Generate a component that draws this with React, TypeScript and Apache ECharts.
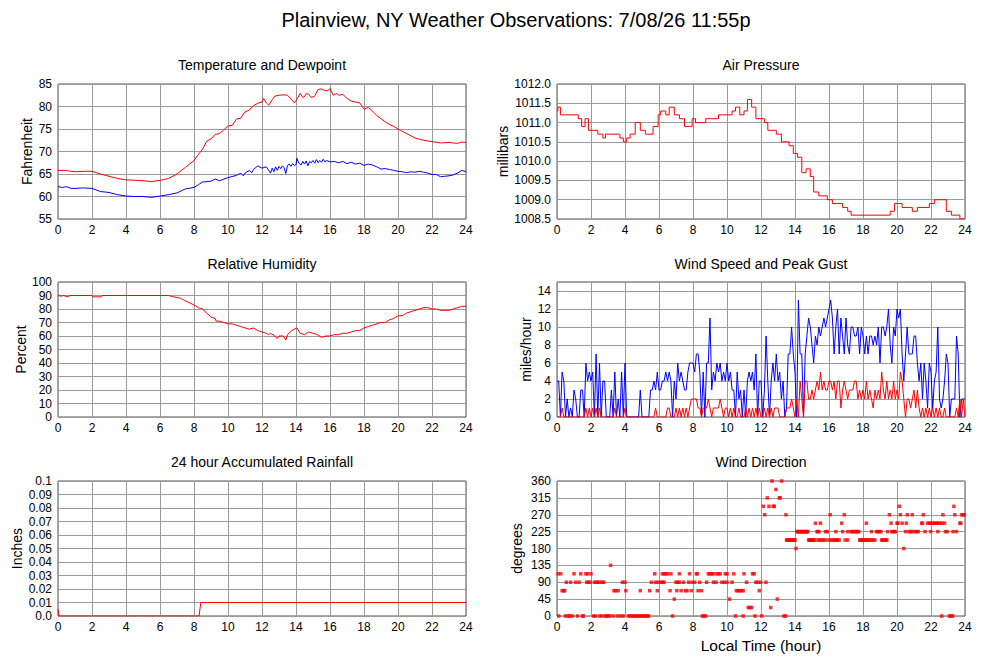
import React, { useEffect, useRef } from "react";
import * as echarts from "echarts";

const FONT = '"Liberation Sans", Arial, Helvetica, sans-serif';

const mainTitle = "Plainview, NY Weather Observations: 7/08/26 11:55p";
const panelTitles = [
  "Temperature and Dewpoint",
  "Air Pressure",
  "Relative Humidity",
  "Wind Speed and Peak Gust",
  "24 hour Accumulated Rainfall",
  "Wind Direction",
];
const yNames = ["Fahrenheit", "millibars", "Percent", "miles/hour", "Inches", "degrees"];
const xName = "Local Time (hour)";

// [hour, °F]
const temperature: number[][] = [
  [0, 65.8], [0.5, 65.8], [0.75, 65.6], [1, 65.5], [1.5, 65.6], [2, 65.6], [2.5, 65.0], [3, 64.5],
  [3.5, 64.0], [4, 63.7], [4.5, 63.6], [5, 63.5], [5.5, 63.3], [6, 63.6], [6.5, 64.0], [7, 65.0],
  [7.5, 66.5], [8, 68.0], [8.25, 69.3], [8.5, 70.5], [8.75, 72.3], [9, 72.8], [9.25, 73.8], [9.5, 74.0],
  [9.75, 74.8], [10, 75.7], [10.25, 75.8], [10.5, 77.2], [10.75, 77.4], [11, 78.8], [11.25, 79.2],
  [11.5, 80.2], [11.75, 80.7], [12, 81.0], [12.1, 81.8], [12.25, 80.8], [12.4, 80.3], [12.6, 81.5],
  [12.75, 82.3], [13, 82.5], [13.25, 82.6], [13.5, 82.5], [13.75, 81.5], [13.9, 80.8], [14, 81.3],
  [14.25, 82.9], [14.4, 82.0], [14.5, 82.2], [14.6, 82.9], [14.75, 82.7], [14.9, 82.0], [15.1, 82.3],
  [15.3, 83.8], [15.5, 83.9], [15.75, 83.5], [15.9, 83.6], [16.0, 84.0], [16.2, 82.5], [16.4, 82.9],
  [16.5, 82.5], [16.75, 82.7], [17, 81.8], [17.25, 81.2], [17.5, 81.0], [17.75, 80.8], [17.9, 80.0],
  [18, 79.4], [18.25, 79.8], [18.5, 79.0], [18.75, 78.0], [19, 77.3], [19.25, 76.6], [19.5, 76.0],
  [19.75, 75.6], [20, 75.0], [20.5, 74.0], [21, 73.0], [21.5, 72.5], [22, 72.2], [22.5, 71.9],
  [23, 72.0], [23.5, 71.8], [23.75, 72.1], [24, 72.0],
];

// [hour, °F]
const dewpoint: number[][] = [
  [0, 62.2], [0.25, 62.0], [0.5, 62.2], [0.75, 61.8], [1, 61.8], [1.5, 61.9], [2, 61.8], [2.5, 61.1],
  [3, 60.9], [3.5, 60.4], [4, 60.1], [4.5, 60.0], [5, 60.0], [5.5, 59.8], [6, 60.1], [6.5, 60.4],
  [7, 60.8], [7.5, 61.7], [8, 62.0], [8.25, 62.6], [8.5, 63.2], [9, 63.4], [9.25, 63.9], [9.5, 63.5],
  [10, 64.2], [10.5, 64.7], [10.75, 65.2], [10.9, 64.6], [11, 65.2], [11.25, 65.8], [11.4, 65.3],
  [11.5, 66.0], [11.75, 66.8], [12, 66.3], [12.25, 66.6], [12.5, 65.2], [12.6, 66.3], [12.7, 65.5],
  [12.8, 66.6], [12.9, 65.8], [13.0, 66.7], [13.1, 66.2], [13.2, 66.8], [13.3, 66.4], [13.4, 65.1],
  [13.5, 66.9], [13.6, 67.2], [13.7, 66.7], [13.8, 67.3], [13.9, 66.9], [14.0, 67.1], [14.05, 68.5],
  [14.15, 67.5], [14.3, 67.0], [14.4, 67.8], [14.5, 67.2], [14.6, 67.9], [14.7, 66.8], [14.8, 67.8],
  [14.9, 67.5], [15.0, 68.0], [15.1, 67.4], [15.2, 68.2], [15.3, 67.5], [15.4, 68.0], [15.5, 67.6],
  [15.6, 68.3], [15.7, 67.7], [15.8, 68.0], [16.0, 67.7], [16.25, 67.8], [16.5, 67.5], [16.75, 67.8],
  [17, 67.3], [17.25, 67.6], [17.5, 67.2], [17.75, 67.4], [18, 66.9], [18.25, 67.2], [18.5, 67.0],
  [18.75, 66.6], [19, 66.1], [19.25, 66.2], [19.5, 66.0], [19.75, 65.8], [20, 65.6], [20.25, 65.5],
  [20.5, 65.3], [20.75, 65.5], [21, 65.4], [21.25, 65.6], [21.5, 65.4], [21.75, 65.2], [22, 64.9],
  [22.25, 64.9], [22.5, 64.4], [22.75, 64.5], [23, 64.6], [23.25, 64.8], [23.5, 65.2], [23.75, 65.8],
  [24, 65.5],
];

// [hour at which the reading changes, mb]
const pressure: number[][] = [
  [0, 1011.3], [0.05, 1011.4], [0.2, 1011.2], [1.25, 1011.1], [1.45, 1010.9], [1.65, 1011.1],
  [1.85, 1010.8], [2.4, 1010.7], [2.7, 1010.6], [2.85, 1010.7], [3.7, 1010.6], [3.9, 1010.5],
  [4.1, 1010.6], [4.3, 1010.7], [4.6, 1011.0], [4.9, 1010.8], [5.2, 1010.7], [5.65, 1010.9],
  [5.95, 1011.2], [6.1, 1011.3], [6.4, 1011.2], [6.6, 1011.4], [6.9, 1011.2], [7.2, 1011.1],
  [7.5, 1010.9], [7.95, 1011.1], [8.15, 1011.0], [8.75, 1011.1], [9.5, 1011.2], [10.3, 1011.3],
  [10.5, 1011.4], [10.75, 1011.2], [11.0, 1011.3], [11.2, 1011.6], [11.45, 1011.4], [11.7, 1011.1],
  [12.2, 1011.0], [12.4, 1010.8], [12.9, 1010.7], [13.2, 1010.5], [13.65, 1010.4], [13.9, 1010.2],
  [14.15, 1010.1], [14.4, 1009.7], [14.65, 1009.8], [14.9, 1009.6], [15.1, 1009.2], [15.4, 1009.1],
  [15.9, 1009.0], [16.2, 1008.9], [16.8, 1008.8], [17.1, 1008.7], [17.3, 1008.6], [19.6, 1008.7],
  [19.85, 1008.9], [20.3, 1008.8], [20.9, 1008.7], [21.2, 1008.8], [21.9, 1008.9], [22.2, 1009.0],
  [22.9, 1008.7], [23.2, 1008.6], [23.7, 1008.5], [24, 1008.5],
];

// [hour, %]
const humidity: number[][] = [
  [0, 90], [0.2, 89.5], [0.3, 90], [0.6, 89], [0.7, 90], [2, 90], [2.05, 89], [2.55, 89], [2.6, 90],
  [6.5, 90], [6.8, 89], [7.2, 88], [7.5, 86], [8, 83], [8.25, 81], [8.5, 80], [8.75, 77], [9, 74],
  [9.25, 73], [9.3, 71], [9.5, 71], [9.75, 70], [10, 69], [10.25, 69], [10.5, 68], [10.75, 67],
  [11, 66], [11.25, 65], [11.5, 66], [11.75, 64], [12, 63], [12.25, 62], [12.4, 61], [12.5, 62],
  [12.75, 60], [12.9, 58], [13, 60], [13.25, 60], [13.4, 57], [13.5, 61], [13.75, 64], [13.9, 65],
  [14.05, 66], [14.25, 62], [14.5, 61], [14.75, 63], [15, 62], [15.25, 61], [15.5, 59], [15.75, 60],
  [16, 60], [16.25, 61], [16.5, 61], [16.75, 62], [17, 62], [17.25, 63], [17.5, 64], [17.75, 64],
  [18, 66], [18.25, 67], [18.5, 68], [18.75, 69], [19, 70], [19.25, 70], [19.5, 72], [19.75, 73],
  [20, 75], [20.25, 75], [20.5, 77], [20.75, 78], [21, 79], [21.25, 80], [21.5, 81], [21.75, 81],
  [22, 80], [22.25, 80], [22.5, 79], [22.75, 79], [23, 79], [23.25, 80], [23.5, 81], [23.75, 82],
  [24, 82],
];

// readings every 0.1 hour from 0 to 24 (mph)
const peakGust: number[] = [
  4, 4, 0, 5, 4, 0, 2, 0, 1, 0,
  3, 2, 0, 0, 3, 3, 0, 6, 4, 5,
  4, 5, 0, 7, 0, 6, 0, 4, 4, 0,
  0, 0, 3, 0, 5, 0, 2, 0, 5, 0,
  6, 0, 0, 0, 0, 0, 0, 0, 0, 3,
  0, 0, 0, 0, 0, 3, 3, 4, 3, 5,
  3, 3, 4, 4, 5, 4, 5, 4, 0, 4,
  2, 6, 4, 5, 4, 3, 3, 5, 6, 6,
  6, 5, 7, 7, 5, 0, 5, 0, 6, 6,
  11, 3, 5, 4, 6, 5, 6, 4, 5, 4,
  6, 4, 5, 3, 3, 0, 5, 2, 3, 0,
  3, 0, 4, 5, 4, 5, 3, 7, 0, 4,
  4, 0, 3, 9, 4, 0, 4, 6, 4, 7,
  4, 5, 2, 4, 0, 1, 7, 7, 10, 7,
  5, 0, 13, 7, 7, 0, 7, 9, 11, 10,
  8, 6, 9, 8, 10, 9, 10, 11, 10, 11,
  12, 13, 11, 7, 10, 12, 7, 11, 9, 7,
  11, 8, 7, 10, 10, 9, 9, 10, 7, 10,
  9, 7, 9, 7, 9, 9, 8, 9, 8, 10,
  6, 10, 10, 9, 10, 12, 8, 6, 10, 9,
  12, 11, 12, 7, 4, 7, 10, 7, 7, 7,
  9, 9, 6, 4, 6, 2, 6, 4, 1, 6,
  5, 1, 4, 5, 10, 2, 1, 2, 4, 7,
  6, 0, 2, 2, 2, 9, 7, 0, 2, 2,
  2,
];

const windSpeed: number[] = [
  0, 0, 0, 1, 0, 0, 0, 0, 0, 0,
  0, 0, 0, 0, 0, 0, 0, 1, 0, 1,
  0, 1, 0, 1, 0, 1, 0, 0, 0, 0,
  0, 0, 0, 0, 1, 0, 0, 0, 0, 0,
  1, 0, 0, 0, 0, 0, 0, 0, 0, 0,
  0, 0, 0, 0, 0, 0, 0, 0, 1, 0,
  0, 0, 0, 0, 0, 1, 1, 0, 0, 0,
  1, 0, 1, 0, 1, 0, 1, 0, 1, 2,
  2, 2, 2, 1, 1, 0, 1, 1, 1, 2,
  1, 0, 1, 1, 1, 1, 2, 1, 0, 1,
  1, 0, 1, 0, 1, 0, 0, 1, 0, 0,
  0, 1, 0, 1, 0, 1, 0, 1, 0, 1,
  0, 0, 1, 0, 1, 0, 1, 0, 1, 1,
  1, 0, 0, 0, 0, 1, 1, 1, 2, 1,
  0, 2, 0, 4, 2, 0, 4, 4, 2, 2,
  3, 2, 3, 4, 3, 5, 3, 4, 3, 3,
  4, 4, 3, 4, 2, 4, 4, 1, 3, 4,
  3, 2, 3, 3, 3, 4, 4, 2, 3, 2,
  3, 2, 4, 2, 3, 2, 1, 3, 2, 3,
  2, 5, 3, 2, 4, 2, 3, 2, 4, 2,
  3, 2, 5, 4, 2, 0, 2, 2, 1, 2,
  3, 1, 3, 1, 0, 1, 0, 1, 0, 1,
  0, 1, 0, 1, 0, 1, 0, 0, 1, 0,
  0, 0, 0, 0, 0, 1, 0, 2, 0, 2,
  0,
];
const windStepHours = 0.1;

// [hour, inches]
const rainfall: number[][] = [
  [0, 0.005], [0.05, 0], [8.3, 0], [8.4, 0.01], [24, 0.01],
];

// hours at which each compass direction (degrees) was reported
const dirHours: Record<string, number[]> = {
  "0": [0.1, 0.5, 0.65, 0.75, 0.9, 1.2, 1.5, 1.55, 2.15, 2.25, 2.5, 2.65, 2.85, 2.9, 3.0, 3.1, 3.3, 3.55,
    3.75, 3.9, 4.2, 4.3, 4.4, 4.5, 4.6, 4.7, 4.8, 4.9, 5.0, 5.1, 5.2, 5.3, 5.4, 6.8, 8.55, 8.65, 8.75,
    10.5, 10.95, 11.65, 12.04, 13.35, 13.45, 22.63, 23.08, 23.18, 23.28],
  "22.5": [11.25, 11.35, 11.45, 12.57],
  "45": [6.9, 10.15, 12.96],
  "67.5": [0.3, 0.4, 0.45, 3.35, 3.45, 3.6, 4.05, 4.9, 5.45, 5.9, 6.65, 7.05, 7.3, 7.55, 7.65, 7.9, 8.3,
    8.5, 10.55, 10.65, 10.75, 10.85, 10.95, 11.9],
  "90": [0.55, 0.8, 1.1, 1.3, 1.75, 1.85, 1.95, 2.2, 2.3, 2.4, 2.5, 2.65, 2.75, 3.85, 4.0, 5.55, 5.8, 5.95,
    6.1, 6.2, 6.3, 7.0, 7.1, 7.2, 7.45, 7.75, 7.95, 8.1, 8.4, 8.8, 9.2, 9.35, 9.7, 9.85, 10.0, 10.3,
    11.15, 11.7, 11.8, 11.98, 12.29],
  "112.5": [0.06, 0.22, 1.0, 1.4, 1.7, 1.8, 2.0, 5.75, 6.2, 6.3, 6.4, 6.5, 6.7, 7.2, 7.8, 8.2, 8.25, 8.9,
    9.0, 9.1, 9.2, 9.4, 9.5, 9.6, 9.9, 10.0, 10.4, 11.0, 11.5, 11.6],
  "135": [3.15],
  "180": [14.06, 20.4],
  "202.5": [13.5, 13.55, 13.6, 13.65, 13.7, 13.75, 13.8, 13.85, 13.9, 13.95, 14.0, 14.8, 14.85, 14.9, 14.95,
    15.0, 15.05, 15.1, 15.2, 15.4, 15.45, 15.6, 15.65, 15.8, 16.0, 16.1, 16.2, 16.3, 16.35, 16.45, 16.5,
    16.6, 16.95, 17.1, 17.8, 17.85, 17.9, 17.95, 18.0, 18.1, 18.15, 18.25, 18.3, 18.4, 18.5, 18.6, 18.7,
    19.1, 19.15, 19.2, 19.3, 19.35, 19.4],
  "225": [14.1, 14.15, 14.2, 14.25, 14.3, 14.35, 14.4, 14.45, 14.5, 14.55, 14.6, 14.65, 14.7, 14.75, 15.3,
    15.35, 15.4, 15.8, 15.9, 16.4, 16.8, 17.1, 17.3, 17.35, 17.45, 17.55, 17.6, 17.7, 17.75, 18.5, 18.8,
    18.85, 18.95, 19.05, 19.45, 19.7, 19.75, 19.85, 19.9, 20.5, 20.7, 20.8, 20.9, 21.05, 21.15, 21.25,
    21.65, 21.98, 22.4, 22.85, 22.95, 23.3, 23.5],
  "247.5": [15.2, 15.5, 16.75, 18.2, 19.65, 20.0, 20.05, 20.3, 20.55, 21.45, 21.5, 21.8, 21.9, 22.0, 22.1,
    22.2, 22.3, 22.35, 22.45, 22.55, 22.65, 22.8, 23.7, 23.75],
  "270": [12.22, 13.47, 16.07, 16.9, 19.55, 20.2, 20.6, 20.9, 21.55, 22.7, 23.4, 23.8, 23.9, 23.95],
  "292.5": [12.14, 12.47, 12.72, 12.78, 20.14, 23.35],
  "315": [12.37, 13.08, 13.13],
  "337.5": [12.88],
  "360": [12.65, 13.22],
};

const grids = [
  { left: 58, top: 84, width: 408, height: 135 },
  { left: 557, top: 84, width: 408, height: 135 },
  { left: 58, top: 282, width: 408, height: 135 },
  { left: 557, top: 282, width: 408, height: 135 },
  { left: 58, top: 481, width: 408, height: 135 },
  { left: 557, top: 481, width: 408, height: 135 },
];

const yRanges = [
  { min: 55, max: 85, interval: 5, nameGap: 24 },
  { min: 1008.5, max: 1012, interval: 0.5, nameGap: 45 },
  { min: 0, max: 100, interval: 10, nameGap: 30 },
  { min: 0, max: 15, interval: 2, nameGap: 24 },
  { min: 0, max: 0.1, interval: 0.01, nameGap: 34 },
  { min: 0, max: 360, interval: 45, nameGap: 33 },
];

const titleY = [65, 65, 264, 264, 462, 462];

export default function App() {
  const ref = useRef<HTMLDivElement>(null);

  useEffect(() => {
    document.body.style.margin = "0";
    if (!ref.current) return;
    const chart = echarts.init(ref.current, undefined, { renderer: "svg" });

    const labelStyle = { color: "#000", fontSize: 12, fontFamily: FONT };

    const xAxis = grids.map((_, i) => ({
      type: "value",
      gridIndex: i,
      min: 0,
      max: 24,
      interval: 2,
      axisLine: { show: false },
      axisTick: { show: false },
      axisLabel: { ...labelStyle, margin: 5 },
      splitLine: { show: true, lineStyle: { color: "#9a9a9a", width: 1 } },
    }));

    const yAxis = grids.map((_, i) => {
      const r = yRanges[i];
      let formatter: any = undefined;
      if (i === 1) formatter = (v: number) => v.toFixed(1);
      if (i === 4) formatter = (v: number) => (v === 0 ? "0.0" : String(Number(v.toFixed(2))));
      return {
        type: "value",
        gridIndex: i,
        min: r.min,
        max: r.max,
        interval: r.interval,
        name: yNames[i],
        nameLocation: "middle",
        nameGap: r.nameGap,
        nameTextStyle: { color: "#000", fontSize: 14, fontFamily: FONT },
        axisLine: { show: false },
        axisTick: { show: false },
        axisLabel: { ...labelStyle, margin: 6, formatter, showMaxLabel: i === 3 ? false : true },
        splitLine: { show: true, lineStyle: { color: "#9a9a9a", width: 1 } },
      };
    });

    const lineBase = (idx: number, data: number[][], color: string, extra: any = {}) => ({
      type: "line",
      xAxisIndex: idx,
      yAxisIndex: idx,
      data,
      showSymbol: false,
      symbol: "none",
      lineStyle: { color, width: 1 },
      itemStyle: { color },
      ...extra,
    });

    const gustData = peakGust.map((v, k) => [Number((k * windStepHours).toFixed(2)), v]);
    const speedData = windSpeed.map((v, k) => [Number((k * windStepHours).toFixed(2)), v]);

    const dirData: number[][] = [];
    Object.keys(dirHours).forEach((deg) => {
      dirHours[deg].forEach((h) => dirData.push([h, Number(deg)]));
    });

    const textEl = (text: string, x: number, y: number, size: number) => ({
      type: "text",
      x,
      y,
      style: {
        text,
        font: `${size}px ${FONT}`,
        fill: "#000",
        textAlign: "center",
        align: "center",
        textVerticalAlign: "middle",
        verticalAlign: "middle",
      },
    });

    const graphicElems: any[] = [
      textEl(mainTitle, 516, 20, 20),
      textEl(xName, 761, 645, 15.5),
    ];
    panelTitles.forEach((t, i) => {
      graphicElems.push(textEl(t, grids[i].left + grids[i].width / 2, titleY[i], 14));
    });

    chart.setOption({
      animation: false,
      backgroundColor: "#fff",
      textStyle: { fontFamily: FONT },
      grid: grids.map((g) => ({
        ...g,
        show: true,
        borderColor: "#555",
        borderWidth: 1,
        backgroundColor: "#fff",
        containLabel: false,
      })),
      xAxis,
      yAxis,
      graphic: { elements: graphicElems },
      series: [
        lineBase(0, temperature, "#ff0000"),
        lineBase(0, dewpoint, "#0000ff"),
        lineBase(1, pressure, "#ff0000", { step: "end" }),
        lineBase(2, humidity, "#ff0000"),
        lineBase(3, gustData, "#0000ff"),
        lineBase(3, speedData, "#ff0000"),
        lineBase(4, rainfall, "#ff0000"),
        {
          type: "scatter",
          xAxisIndex: 5,
          yAxisIndex: 5,
          data: dirData,
          symbol: "rect",
          symbolSize: 3.5,
          itemStyle: { color: "#ff0000" },
        },
      ],
    });

    return () => chart.dispose();
  }, []);

  return <div ref={ref} style={{ width: 1000, height: 660 }} />;
}
